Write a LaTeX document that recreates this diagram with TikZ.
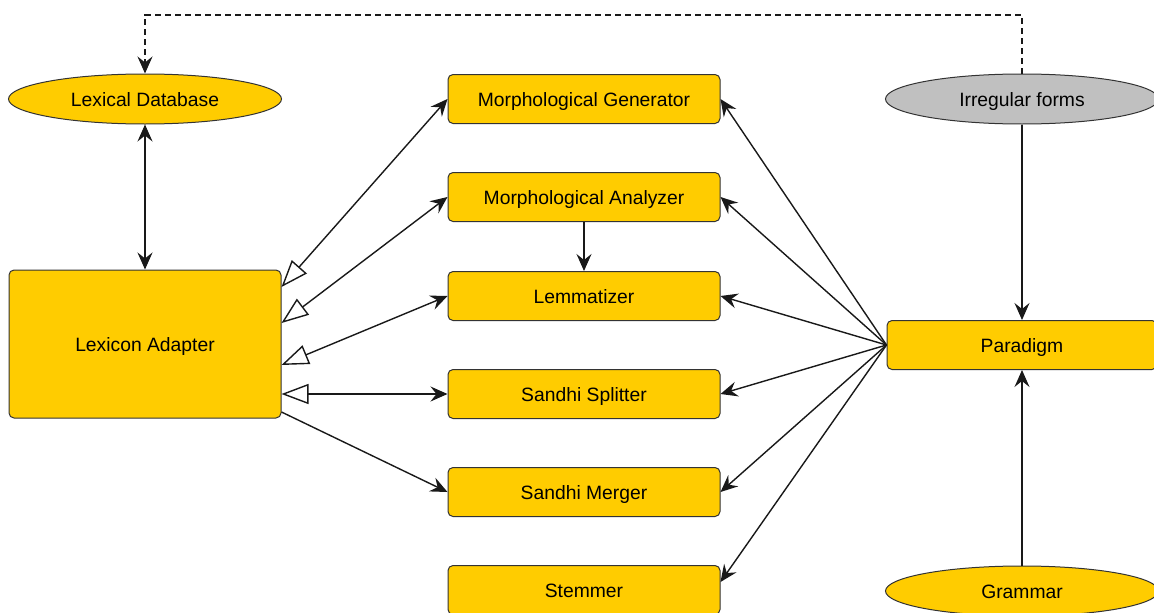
\documentclass[tikz,border=0pt]{standalone}
\usepackage{fontspec}
\setmainfont{Liberation Sans}
\usetikzlibrary{arrows.meta,shapes.geometric,calc}
\definecolor{ycol}{HTML}{FFCC00}
\definecolor{gcol}{HTML}{C0C0C0}
\definecolor{bcol}{HTML}{333333}
\begin{document}
\begin{tikzpicture}[x=1pt,y=-1pt,
  lbl/.style={font=\fontsize{19.3}{23}\selectfont, text=black, text height=17pt, text depth=2pt},
  box/.style={lbl, draw=bcol, fill=ycol, rounded corners=5pt, line width=1pt, minimum width=272pt, minimum height=49pt, inner sep=0pt},
  ell/.style={lbl, draw=bcol, fill=ycol, ellipse, line width=1pt, minimum width=273pt, minimum height=50pt, inner sep=0pt},
  conn/.style={line width=1.4pt, draw=black!90},
  >={Stealth[length=17pt,width=15pt,inset=6pt]},
  hollow/.style={conn, {Triangle[open,fill=white,length=27pt,width=20pt]}->}
]
\useasboundingbox (0,0) rectangle (1154,613);
\clip (0,0) rectangle (1154,613);
\fill[white] (0,0) rectangle (1154,613);

% nodes
\node[ell] (ld) at (145,99) {Lexical Database};
\node[box, minimum height=148pt] (la) at (145,344) {Lexicon Adapter};
\node[box] (mg) at (584,99) {Morphological Generator};
\node[box] (ma) at (584,197) {Morphological Analyzer};
\node[box] (lem) at (584,296) {Lemmatizer};
\node[box] (ss) at (584,394) {Sandhi Splitter};
\node[box] (sm) at (584,492) {Sandhi Merger};
\node[box] (stem) at (584,590) {Stemmer};
\node[ell, fill=gcol] (irr) at (1022,99) {Irregular forms};
\node[box, minimum width=270pt] (par) at (1022,345) {Paradigm};
\node[ell, minimum height=50pt] (gr) at (1022,591) {Grammar};

% connectors
\coordinate (top) at (0,15);
\draw[conn, <->] (ld.south) -- (la.north);
\draw[hollow] ($(la.east)+(0,-57)$) -- (mg.west);
\draw[hollow] ($(la.east)+(0,-21)$) -- (ma.west);
\draw[hollow] ($(la.east)+(0,21)$) -- (lem.west);
\draw[hollow] ($(la.east)+(0,50)$) -- (ss.west);
\draw[conn, ->] ($(la.east)+(0,68)$) -- (sm.west);
\draw[conn, ->] (ma.south) -- (lem.north);
\foreach \t in {mg,ma,lem,ss,sm}{
  \draw[conn, ->] (par.west) -- (\t.east);
}
\draw[conn, ->] (par.west) -- ($(stem.east)+(0,-8)$);
\draw[conn, ->] (irr.south) -- (par.north);
\draw[conn, ->] (gr.north) -- (par.south);
\draw[conn, dash pattern=on 6pt off 4pt, ->] (irr.north) -- (irr.north |- top) -| (ld.north);
\end{tikzpicture}
\end{document}
